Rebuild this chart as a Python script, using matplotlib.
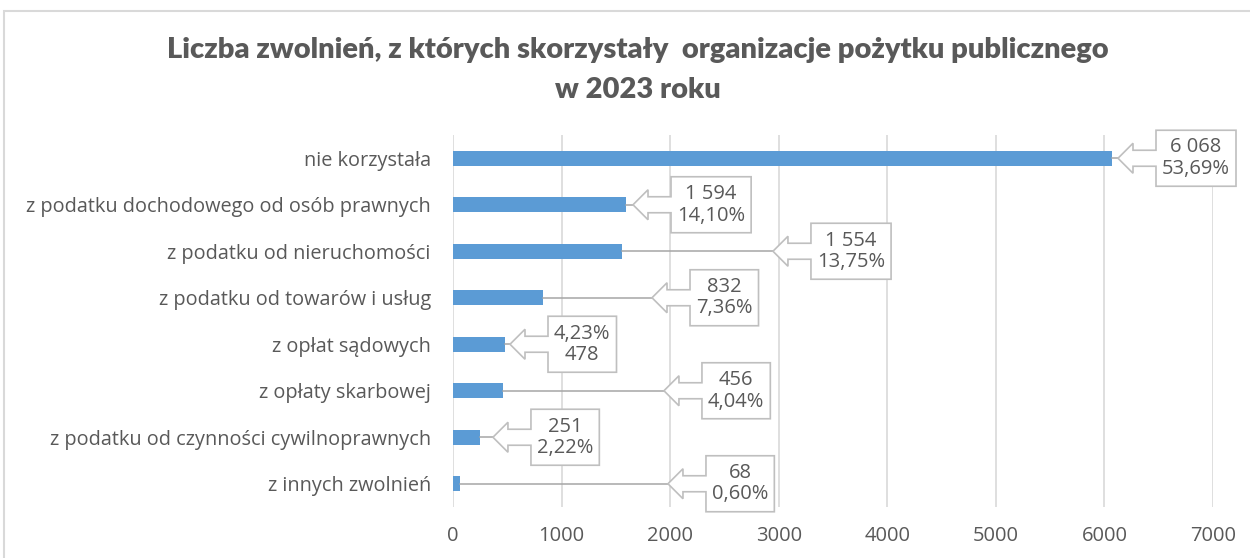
import matplotlib
matplotlib.use("Agg")
import matplotlib.pyplot as plt
from matplotlib.patches import Polygon, Rectangle
from matplotlib.transforms import IdentityTransform

# ---------------- data ----------------
categories = [
    "nie korzystała",
    "z podatku dochodowego od osób prawnych",
    "z podatku od nieruchomości",
    "z podatku od towarów i usług",
    "z opłat sądowych",
    "z opłaty skarbowej",
    "z podatku od czynności cywilnoprawnych",
    "z innych zwolnień",
]
values = [6068, 1594, 1554, 832, 478, 456, 251, 68]
percents = ["53,69%", "14,10%", "13,75%", "7,36%", "4,23%", "4,04%", "2,22%", "0,60%"]
value_labels = ["6 068", "1 594", "1 554", "832", "478", "456", "251", "68"]
xticks = [0, 1000, 2000, 3000, 4000, 5000, 6000, 7000]
title = "Liczba zwolnień, z których skorzystały  organizacje pożytku publicznego\nw 2023 roku"

# ---------------- layout ----------------
label_tip = [6125, 1658, 2947, 1833, 525, 1943, 368, 1980]   # arrow tip x (data units)
pct_first = [False, False, False, False, True, False, False, False]

W, H = 1250, 558
TXT = "#595959"
BAR = "#5B9BD5"
GRID = "#D9D9D9"
BODY_FONT = ["Open Sans", "DejaVu Sans"]
TITLE_FONT = ["Lato", "DejaVu Sans"]

fig = plt.figure(figsize=(W / 100, H / 100), dpi=100)
fig.patch.set_facecolor("white")

# chart border
fig.patches.append(Rectangle((4, -20), W + 40, H - 11 + 20, transform=IdentityTransform(),
                             fill=False, edgecolor=GRID, lw=1.5, figure=fig))

ax = fig.add_axes([453 / W, 1 - 507 / H, 760 / W, 372 / H])
ypos = list(range(len(categories)))
ax.barh(ypos, values, height=0.33, color=BAR, zorder=2)
ax.set_xlim(0, 7000)
ax.set_ylim(len(categories) - 0.5, -0.5)
ax.set_xticks(xticks)
ax.set_xticklabels([str(t) for t in xticks], fontsize=14.5, color=TXT, family=BODY_FONT)
ax.set_yticks(ypos)
ax.set_yticklabels(categories, fontsize=14.3, color=TXT, family=BODY_FONT)
ax.tick_params(axis="x", length=0, pad=14)
ax.tick_params(axis="y", length=0, pad=16)
ax.grid(axis="x", color=GRID, lw=1.2, zorder=0)
ax.set_axisbelow(True)
for s in ax.spines.values():
    s.set_visible(False)

fig.text(638 / W, 1 - 70 / H, title, ha="center", va="center", fontsize=21,
         fontweight="heavy", color=TXT, family=TITLE_FONT, linespacing=1.65)

fig.canvas.draw()
renderer = fig.canvas.get_renderer()

HL, HH, SH, SHAFT = 15, 15, 8, 23
BOX_H = 56
PADX = 6
EDGE = "#BFBFBF"
for i, v in enumerate(values):
    bx, by = ax.transData.transform((v, i))
    tx, _ = ax.transData.transform((label_tip[i], i))
    ty = by
    # leader line
    ax.plot([v, label_tip[i]], [i, i], color="#A6A6A6", lw=1.1, zorder=3)
    lines = [percents[i], value_labels[i]] if pct_first[i] else [value_labels[i], percents[i]]
    t = fig.text(0, 0, "\n".join(lines), ha="center", va="center", fontsize=14.5,
                 color=TXT, family=BODY_FONT, linespacing=1.1, transform=IdentityTransform(),
                 zorder=6)
    tw = t.get_window_extent(renderer).width
    bw = tw + 2 * PADX
    bl = tx + HL + SHAFT
    br = bl + bw
    top = ty + BOX_H / 2
    bot = ty - BOX_H / 2
    pts = [(bl, top), (br, top), (br, bot), (bl, bot),
           (bl, ty - SH), (tx + HL, ty - SH), (tx + HL, ty - HH), (tx, ty),
           (tx + HL, ty + HH), (tx + HL, ty + SH), (bl, ty + SH)]
    poly = Polygon(pts, closed=True, facecolor="white", edgecolor=EDGE, lw=1.2,
                   transform=IdentityTransform(), zorder=5)
    fig.patches.append(poly)
    t.set_position(((bl + br) / 2, ty))

fig.savefig("out.png", dpi=100)
